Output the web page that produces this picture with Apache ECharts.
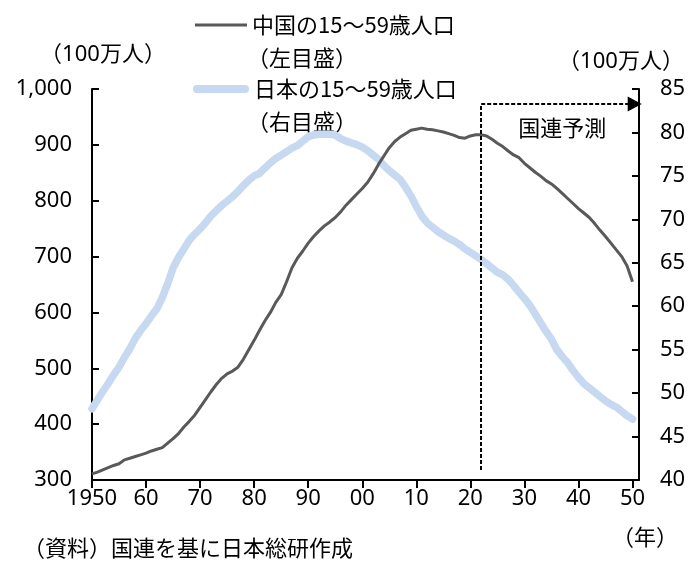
<!DOCTYPE html>
<html>
<head>
<meta charset="utf-8">
<script src="https://cdn.jsdelivr.net/npm/echarts@6/dist/echarts.min.js"></script>
<style>
  html, body { margin: 0; padding: 0; background: #fff; }
  #chart { width: 689px; height: 563px; }
</style>
</head>
<body>
<div id="chart"></div>
<script>
// Working-age (15-59) population, millions, 1950-2050 (UN estimates and projections)
const years = [];
for (let y = 1950; y <= 2050; y++) years.push(y);

const chinaPop = [
  311, 314, 318, 322, 326, 329, 336, 339, 342, 345,
  348, 352, 355, 358, 366, 374, 383, 395, 405, 416,
  430, 444, 458, 471, 482, 490, 495, 502, 516, 533,
  550, 568, 585, 600, 618, 632, 655, 680, 697, 710,
  724, 736, 746, 755, 762, 770, 780, 792, 802, 812,
  822, 833, 848, 865, 880, 895, 906, 914, 920, 926,
  928, 930, 928, 927, 925, 923, 920, 917, 913, 912,
  916, 918, 918, 916, 910, 903, 897, 889, 882, 877,
  867, 859, 851, 844, 836, 830, 822, 813, 804, 795,
  786, 778, 770, 759, 747, 736, 724, 712, 700, 683,
  655
];

const japanPop = [
  48.2, 49.2, 50.2, 51.1, 52.1, 53.0, 54.1, 55.1, 56.3, 57.2,
  58.0, 58.9, 59.7, 61.0, 62.6, 64.4, 65.6, 66.6, 67.6, 68.3,
  68.9, 69.6, 70.4, 71.0, 71.6, 72.1, 72.6, 73.2, 73.9, 74.5,
  75.0, 75.3, 75.9, 76.5, 77.0, 77.4, 77.8, 78.2, 78.5, 79.0,
  79.5, 79.7, 79.8, 79.8, 79.8, 79.7, 79.3, 79.0, 78.8, 78.6,
  78.3, 77.9, 77.4, 76.9, 76.2, 75.6, 75.1, 74.6, 73.7, 72.7,
  71.5, 70.4, 69.6, 69.1, 68.6, 68.2, 67.8, 67.5, 67.1, 66.6,
  66.2, 65.8, 65.4, 64.9, 64.4, 63.9, 63.6, 63.1, 62.4, 61.6,
  60.9, 60.1, 59.1, 58.1, 57.1, 56.2, 55.0, 54.2, 53.5, 52.6,
  51.8, 51.1, 50.6, 50.1, 49.6, 49.1, 48.7, 48.4, 47.9, 47.4,
  47.0
];

// Year axis ticks and their printed labels
const xTickYears = [1950, 1960, 1970, 1980, 1990, 2000, 2010, 2020, 2030, 2040, 2050];
const xTickLabels = ['1950', '60', '70', '80', '90', '00', '10', '20', '30', '40', '50'];

// Projection bracket: starts at the first projected year
const projStartYear = 2022;
const projEndYear = 2050.4;
const projTop = 973;
const projBottom = 318;
const projLabel = '国連予測';
const projLabelPos = [2037, 930];

const chinaName = '中国の15～59歳人口';
const japanName = '日本の15～59歳人口';

const numFont = '"Noto Sans", "Noto Sans CJK JP", sans-serif';
const jpFont = '"Noto Sans CJK JP", sans-serif';
const FS = 22;

const chart = echarts.init(document.getElementById('chart'), null, { renderer: 'canvas' });

const dataChina = years.map((y, i) => [y, chinaPop[i]]);
const dataJapan = years.map((y, i) => [y, japanPop[i]]);

function note(text, x, y, align, family) {
  return {
    type: 'text', x: x, y: y, silent: true,
    style: { text: text, fill: '#000', fontSize: FS, fontFamily: family, textAlign: align, textVerticalAlign: 'middle' }
  };
}

chart.setOption({
  animation: false,
  backgroundColor: '#ffffff',
  textStyle: { fontFamily: numFont },
  grid: { left: 92, right: 50, top: 89, bottom: 83, containLabel: false },
  legend: [
    {
      data: [chinaName], left: 190, top: 9, itemWidth: 52, itemHeight: 3, itemGap: 0,
      selectedMode: false, icon: 'rect',
      textStyle: { fontSize: FS, color: '#000', fontFamily: jpFont }
    },
    {
      data: [japanName], left: 188, top: 73, itemWidth: 56, itemHeight: 8, itemGap: 0,
      selectedMode: false,
      icon: 'path://M4,0 L52,0 A4,4 0 0 1 52,8 L4,8 A4,4 0 0 1 4,0 Z',
      textStyle: { fontSize: FS, color: '#000', fontFamily: jpFont }
    }
  ],
  xAxis: {
    type: 'value', min: 1950, max: 2051.2,
    axisLine: { show: true, lineStyle: { color: '#000', width: 2 } },
    axisTick: { show: true, inside: false, length: 8, customValues: xTickYears, lineStyle: { color: '#000', width: 2 } },
    axisLabel: {
      customValues: xTickYears, margin: 8, fontSize: FS, color: '#000', fontFamily: numFont,
      formatter: v => xTickLabels[xTickYears.indexOf(Math.round(v))] || ''
    },
    splitLine: { show: false }
  },
  yAxis: [
    {
      type: 'value', min: 300, max: 1000, interval: 100, position: 'left',
      axisLine: { show: true, lineStyle: { color: '#000', width: 2 } },
      axisTick: { show: true, inside: true, length: 7, lineStyle: { color: '#000', width: 2 } },
      axisLabel: { margin: 20, fontSize: FS, color: '#000', fontFamily: numFont,
        formatter: v => v.toLocaleString('en-US') },
      splitLine: { show: false }
    },
    {
      type: 'value', min: 40, max: 85, interval: 5, position: 'right',
      axisLine: { show: true, lineStyle: { color: '#000', width: 2 } },
      axisTick: { show: true, inside: true, length: 7, lineStyle: { color: '#000', width: 2 } },
      axisLabel: { margin: 21, fontSize: FS, color: '#000', fontFamily: numFont },
      splitLine: { show: false }
    }
  ],
  series: [
    {
      name: japanName, type: 'line', yAxisIndex: 1, data: dataJapan,
      showSymbol: false, symbol: 'none', smooth: false,
      itemStyle: { color: '#c6d9f1' },
      lineStyle: { color: '#c6d9f1', width: 7.5, cap: 'round', join: 'round' },
      z: 2
    },
    {
      name: chinaName, type: 'line', yAxisIndex: 0, data: dataChina,
      showSymbol: false, symbol: 'none', smooth: false,
      itemStyle: { color: '#595959' },
      lineStyle: { color: '#595959', width: 3, join: 'round' },
      z: 3,
      markLine: {
        silent: true, animation: false,
        symbol: ['none', 'none'],
        label: { show: false },
        lineStyle: { color: '#000', width: 2, type: [4, 2] },
        data: [
          [ { coord: [projStartYear, projBottom], symbol: 'none' },
            { coord: [projStartYear, projTop], symbol: 'none' } ],
          [ { coord: [projStartYear, projTop], symbol: 'none' },
            { coord: [projEndYear, projTop], symbol: 'triangle', symbolSize: [15, 14], symbolRotate: -90 } ]
        ]
      },
      markPoint: {
        silent: true, animation: false,
        symbol: 'circle', symbolSize: 0,
        label: { show: true, position: 'inside', color: '#000', fontSize: FS, fontFamily: jpFont,
          formatter: projLabel },
        data: [ { coord: projLabelPos } ]
      }
    }
  ],
  graphic: [
    note('（100万人）', 103, 55, 'center', numFont),
    note('（100万人）', 621, 62, 'center', numFont),
    note('（左目盛）', 302, 58, 'center', jpFont),
    note('（右目盛）', 302, 122, 'center', jpFont),
    note('（年）', 645, 537, 'center', jpFont),
    note('（資料）国連を基に日本総研作成', 23, 548, 'left', jpFont)
  ]
});
</script>
</body>
</html>
